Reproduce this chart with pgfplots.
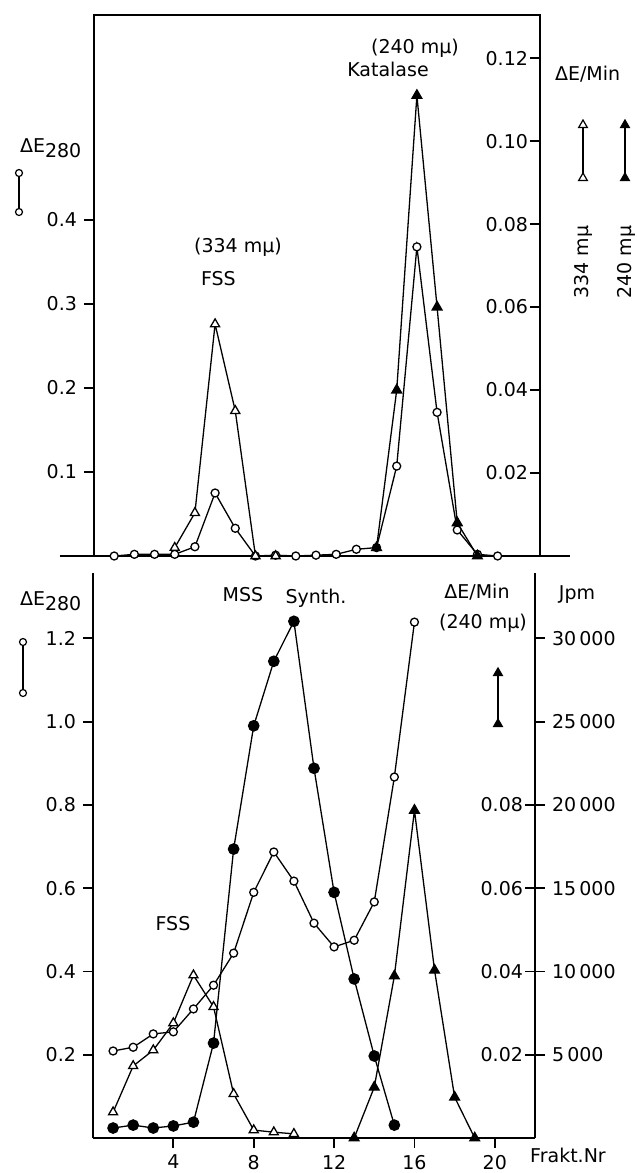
\documentclass[border=0pt]{standalone}
\usepackage{pgfplots}
\pgfplotsset{compat=1.18}
\usepackage{fontspec}
\setmainfont{DejaVu Sans}
\usetikzlibrary{shapes.geometric}

% marker styles
\pgfplotsset{
  ocirc/.style={black, line width=0.65pt, mark=*, mark size=2pt, mark options={fill=white, solid}},
  fcirc/.style={black, line width=0.65pt, mark=*, mark size=2.6pt, mark options={fill=black, solid}},
  otri/.style={black, line width=0.65pt, mark=triangle*, mark size=2.6pt, mark options={fill=white, solid}},
  ftri/.style={black, line width=0.65pt, mark=triangle*, mark size=2.8pt, mark options={fill=black, solid}},
  panel/.style={scale only axis, anchor=south west, clip=false,
    axis line style={line width=1pt, -},
    tick style={line width=0.9pt, black}, major tick length=5pt,
    /pgf/number format/assume math mode=true,
    tick label style={font=\fontsize{9.5}{10}\selectfont}},
  fix1/.style={/pgf/number format/fixed, /pgf/number format/fixed zerofill, /pgf/number format/precision=1},
  fix2/.style={/pgf/number format/fixed, /pgf/number format/fixed zerofill, /pgf/number format/precision=2},
}
\tikzset{
  lc/.style={circle, draw, fill=white, line width=0.6pt, inner sep=0pt, minimum size=3.5pt},
  lto/.style={regular polygon, regular polygon sides=3, draw, fill=white, line width=0.6pt, inner sep=0pt, minimum size=5pt},
  ltf/.style={regular polygon, regular polygon sides=3, draw, fill=black, line width=0.6pt, inner sep=0pt, minimum size=5pt},
}

\begin{document}
\begin{tikzpicture}[font=\fontsize{9.5}{10}\selectfont]
\path[use as bounding box] (0,0) rectangle (318.5pt,-586.5pt);

%%% upper panel
\begin{axis}[panel, at={(47pt,-278pt)}, width=223pt, height=270.5pt,
  xmin=0, xmax=22.1, ymin=0, ymax=0.644,
  xtick=\empty, ytick={0.1,0.2,0.3,0.4}, ytick pos=left, tick align=outside,
  yticklabel style={fix1}]
\draw[line width=1pt] (axis cs:-1.7,0) -- (axis cs:23.6,0);
% Delta E 280
\addplot[ocirc] coordinates {
  (1,0) (2,0.002) (3,0.002) (4,0.002) (5,0.011) (6,0.075) (7,0.033) (8,0)
  (9,0.001) (10,0) (11,0.001) (12,0.002) (13,0.008) (14,0.010) (15,0.107)
  (16,0.368) (17,0.171) (18,0.031) (19,0.002) (20,0)
};
\end{axis}

\begin{axis}[panel, at={(47pt,-278pt)}, width=223pt, height=270.5pt,
  xmin=0, xmax=22.1, ymin=0, ymax=0.1304,
  axis x line=none, axis y line*=right, ytick pos=right, yticklabel pos=right,
  ytick={0.02,0.04,0.06,0.08,0.10,0.12}, tick align=inside,
  yticklabel style={anchor=east, xshift=-2.5pt, fix2}]
% FSS 334 mu
\addplot[otri] coordinates {
  (4,0.002) (5,0.0104) (6,0.0559) (7,0.035) (8,0) (9,0)
};
% Katalase 240 mu
\addplot[ftri] coordinates {
  (14,0.002) (15,0.040) (16,0.111) (17,0.060) (18,0.008) (19,0)
};
\end{axis}

%%% lower panel
\begin{axis}[panel, at={(46.5pt,-569pt)}, width=221pt, height=282.5pt,
  xmin=0, xmax=22, ymin=0, ymax=1.357,
  axis x line*=bottom, axis y line*=left, xtick pos=bottom, ytick pos=left,
  xticklabel pos=bottom, yticklabel pos=left,
  xtick={4,8,12,16,20}, ytick={0.2,0.4,0.6,0.8,1.0,1.2}, tick align=outside,
  yticklabel style={fix1}]
% Delta E 280
\addplot[ocirc] coordinates {
  (1,0.209) (2,0.218) (3,0.250) (4,0.255) (5,0.310) (6,0.367) (7,0.444)
  (8,0.590) (9,0.687) (10,0.617) (11,0.516) (12,0.459) (13,0.475)
  (14,0.567) (15,0.867) (16,1.239)
};
\end{axis}

\begin{axis}[panel, at={(46.5pt,-569pt)}, width=221pt, height=282.5pt,
  xmin=0, xmax=22, ymin=0, ymax=0.1357,
  axis x line=none, axis y line*=right, ytick pos=right, yticklabel pos=right,
  ytick={0.02,0.04,0.06,0.08}, tick align=inside,
  yticklabel style={anchor=east, xshift=-2.5pt, fix2}]
% FSS
\addplot[otri] coordinates {
  (1,0.0062) (2,0.0173) (3,0.0211) (4,0.0276) (5,0.0391) (6,0.0315)
  (7,0.0106) (8,0.0019) (9,0.0014) (10,0.0010)
};
% Katalase 240 mu
\addplot[ftri] coordinates {
  (13,0) (14,0.0122) (15,0.0389) (16,0.0787) (17,0.0403) (18,0.0098) (19,0)
};
\end{axis}

\begin{axis}[panel, at={(46.5pt,-569pt)}, width=221pt, height=282.5pt,
  xmin=0, xmax=22, ymin=0, ymax=33925,
  axis x line=none, axis y line*=right, ytick pos=right, yticklabel pos=right,
  ytick={5000,10000,15000,20000,25000,30000}, tick align=outside,
  scaled y ticks=false,
  yticklabel style={/pgf/number format/1000 sep={\,}}]
% MSS synthesis (Jpm)
\addplot[fcirc] coordinates {
  (1,600) (2,775) (3,600) (4,725) (5,950) (6,5700) (7,17350) (8,24750)
  (9,28625) (10,31025) (11,22200) (12,14750) (13,9550) (14,4925) (15,775)
};
\end{axis}

%%% texts and keys, upper panel
\node[anchor=base west] at (6.5pt,-76pt) {ΔE\raisebox{-0.55ex}{280}};
\draw[line width=0.6pt] (9.5pt,-86.5pt) -- (9.5pt,-106pt);
\node[lc] at (9.5pt,-86.5pt) {}; \node[lc] at (9.5pt,-106pt) {};
\node at (119pt,-123.5pt) {(334 mμ)};
\node[anchor=west] at (97pt,-139.5pt) {FSS};
\node at (207.5pt,-24pt) {(240 mμ)};
\node at (194pt,-34.5pt) {Katalase};
\node[anchor=west] at (274pt,-37pt) {ΔE/Min};
\draw[line width=0.6pt] (291.5pt,-62.5pt) -- (291.5pt,-89pt);
\node[lto] at (291.5pt,-62.5pt) {}; \node[lto] at (291.5pt,-89pt) {};
\draw[line width=0.6pt] (312.5pt,-62.5pt) -- (312.5pt,-89pt);
\node[ltf] at (312.5pt,-62.5pt) {}; \node[ltf] at (312.5pt,-89pt) {};
\node[rotate=90] at (291.5pt,-131pt) {334 mμ};
\node[rotate=90] at (313pt,-131pt) {240 mμ};

%%% texts and keys, lower panel
\node[anchor=base west] at (6.5pt,-302.5pt) {ΔE\raisebox{-0.55ex}{280}};
\draw[line width=0.6pt] (11.5pt,-321pt) -- (11.5pt,-346.5pt);
\node[lc] at (11.5pt,-321pt) {}; \node[lc] at (11.5pt,-346.5pt) {};
\node at (121.5pt,-297.5pt) {MSS};
\node at (158pt,-299pt) {Synth.};
\node at (238.5pt,-296pt) {ΔE/Min};
\node at (241.5pt,-311.5pt) {(240 mμ)};
\node at (288.5pt,-297.5pt) {Jpm};
\draw[line width=0.6pt] (249pt,-336.5pt) -- (249pt,-362pt);
\node[ltf] at (249pt,-336.5pt) {}; \node[ltf] at (249pt,-362pt) {};
\node at (86.5pt,-462pt) {FSS};
\node at (284pt,-577.5pt) {Frakt.Nr};
\end{tikzpicture}
\end{document}
